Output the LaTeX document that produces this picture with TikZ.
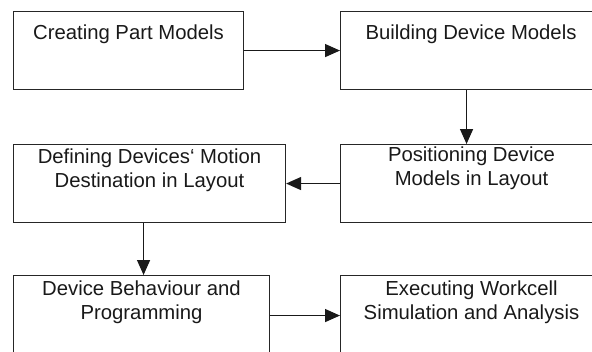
\documentclass[tikz,border=0pt]{standalone}
\usepackage{fontspec}
\setmainfont{Liberation Sans}
\usetikzlibrary{arrows.meta,calc}

\begin{document}
\begin{tikzpicture}[x=1pt,y=-1pt,
  stepbox/.style={draw=black!85, line width=1.1pt, rectangle, inner sep=0pt,
                  anchor=north west},
  steptext/.style={anchor=north, inner sep=0pt, align=center, text=black!90,
                   font=\fontsize{20.3}{24}\selectfont},
  flow/.style={draw=black!90, line width=1.3pt,
               -{Triangle[length=15pt,width=13pt]}}]
\useasboundingbox (0,0) rectangle (592,351);
\clip (0,0) rectangle (592,351);

% process boxes (right column and bottom row run past the frame)
\node[stepbox, minimum width=230pt, minimum height=78pt] (b1) at (13,11) {};
\node[stepbox, minimum width=262pt, minimum height=78pt] (b2) at (340,11) {};
\node[stepbox, minimum width=262pt, minimum height=78pt] (b3) at (340,144) {};
\node[stepbox, minimum width=272pt, minimum height=78pt] (b4) at (13,144) {};
\node[stepbox, minimum width=256pt, minimum height=80pt] (b5) at (13,275) {};
\node[stepbox, minimum width=262pt, minimum height=80pt] (b6) at (340,275) {};

% step titles
\node[steptext] (t1) at (128.5,25) {Creating Part Models};
\node[steptext] (t2) at (471,25) {Building Device Models};
\node[steptext] (t3) at (471.5,147) {Positioning Device\\Models in Layout};
\node[steptext] (t4) at (149.5,149) {Defining Devices\char"60{} Motion\\Destination in Layout};
\node[steptext] (t5) at (141.5,281) {Device Behaviour and\\Programming};
\node[steptext] (t6) at (471.5,281) {Executing Workcell\\Simulation and Analysis};

% workflow arrows
\draw[flow] (b1.east) -- (b2.west);
\draw[flow] ([xshift=-5pt]b2.south) -- ([xshift=-5pt]b2.south |- b3.north);
\draw[flow] (b3.west) -- (b4.east);
\draw[flow] ([xshift=-6pt]b4.south) -- ([xshift=-6pt]b4.south |- b5.north);
\draw[flow] (b5.east) -- (b6.west);
\end{tikzpicture}
\end{document}
